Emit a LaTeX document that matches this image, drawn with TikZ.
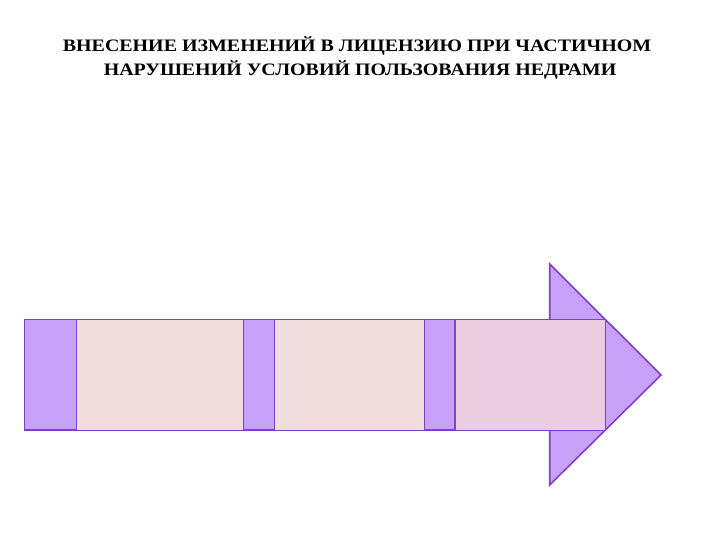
\documentclass[tikz,border=0pt]{standalone}
\usepackage{fontspec}
\setmainfont{Liberation Serif}
\definecolor{tabviolet}{RGB}{200,162,250}
\definecolor{edgeviolet}{RGB}{125,64,205}
\definecolor{bandbeige}{RGB}{240,221,222}
\definecolor{bandpink}{RGB}{234,205,224}
\begin{document}
\begin{tikzpicture}[x=1pt,y=-1pt,
    headline/.style={font=\bfseries\fontsize{17.5}{24}\selectfont, anchor=base, inner sep=0pt,
        xscale=1.14, transform shape},
    tab/.style={draw=edgeviolet, line width=1.2pt, fill=tabviolet},
    band/.style={draw=edgeviolet, line width=0.7pt}]
    \useasboundingbox (0,0) rectangle (720,540);
    % title
    \node[headline] (titleA) at (357,52) {ВНЕСЕНИЕ ИЗМЕНЕНИЙ В ЛИЦЕНЗИЮ ПРИ ЧАСТИЧНОМ};
    \node[headline] (titleB) at (360,76) {НАРУШЕНИЙ УСЛОВИЙ ПОЛЬЗОВАНИЯ НЕДРАМИ};

    % arrow head behind the shaft
    \draw[tab, line width=1.6pt, line join=miter] (549.7,264) -- (661,375) -- (549.7,485) -- cycle;

    % shaft bands
    \foreach \x/\w/\col in {76.7/166.6/bandbeige, 274.7/149.6/bandbeige, 455/150/bandpink}
        \draw[band, fill=\col] (\x,319.5) rectangle ++(\w,110.5);

    % violet tabs
    \foreach \x/\w in {24.7/52, 243.3/31.4, 424.3/30.7}
        \draw[tab] (\x,319.5) rectangle ++(\w,110.5);
\end{tikzpicture}
\end{document}
